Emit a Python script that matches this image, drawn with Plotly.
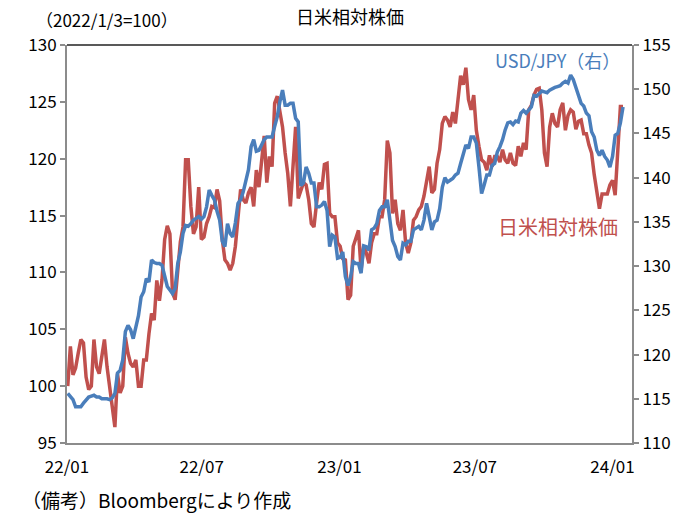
import pandas as pd
import plotly.graph_objects as go

# half-weekly observations starting 2022-01-03
dates = pd.date_range("2022-01-03", periods=213, freq="84h")

rel_stock = [
    100.0, 103.5, 101.0, 101.6, 102.9, 104.1, 103.8, 100.8, 99.7, 100.0,
    104.1, 101.7, 101.1, 102.5, 104.1, 101.7, 100.0, 98.5, 96.4, 101.1,
    99.4, 100.0, 104.3, 102.9, 102.0, 101.7, 102.3, 100.0, 100.0, 102.3,
    102.3, 104.6, 106.4, 105.8, 109.3, 107.5, 109.4, 112.9, 114.1, 113.4,
    108.2, 107.6, 110.5, 112.7, 114.0, 119.9, 119.9, 115.8, 113.4, 114.0,
    117.5, 112.9, 113.1, 114.3, 114.9, 115.8, 115.7, 117.3, 116.3, 112.9,
    111.1, 110.8, 110.2, 110.8, 112.3, 114.6, 117.3, 116.4, 116.1, 117.0,
    117.5, 115.8, 119.0, 117.5, 119.9, 122.0, 117.9, 120.2, 119.3, 124.9,
    125.5, 124.0, 122.8, 120.5, 118.7, 115.8, 119.9, 122.8, 116.5, 117.3,
    117.9, 117.7, 116.4, 114.3, 114.0, 116.1, 117.9, 117.3, 119.5, 119.6,
    115.2, 114.9, 114.9, 112.6, 112.3, 111.2, 111.1, 107.6, 108.0, 112.3,
    112.9, 113.7, 110.2, 112.3, 111.7, 110.8, 112.6, 113.4, 113.4, 114.9,
    114.9, 116.4, 121.6, 120.5, 115.2, 116.4, 114.3, 113.7, 115.5, 112.6,
    111.7, 112.6, 114.6, 114.9, 115.5, 115.8, 116.7, 118.1, 119.3, 117.0,
    117.3, 119.6, 120.8, 123.1, 123.7, 123.4, 122.8, 124.1, 123.1, 125.2,
    127.3, 126.5, 128.0, 125.2, 124.3, 125.6, 122.5, 121.1, 119.9, 119.7,
    119.0, 120.3, 119.3, 120.2, 120.2, 119.7, 120.8, 119.9, 119.6, 120.5,
    119.6, 119.4, 121.1, 120.2, 121.4, 120.8, 124.3, 124.7, 125.6, 126.1,
    126.2, 124.3, 120.5, 119.3, 122.8, 124.0, 123.1, 122.8, 124.3, 124.9,
    122.5, 123.8, 124.3, 124.1, 122.6, 123.3, 123.4, 122.2, 122.2, 121.2,
    120.5, 118.6, 117.2, 115.6, 116.9, 116.9, 116.9, 117.7, 118.1, 116.8,
    121.4, 124.6, 124.6,
]

usdjpy = [
    115.6, 115.2, 114.9, 114.1, 114.1, 114.1, 114.5, 114.9, 115.2, 115.3,
    115.4, 115.2, 115.2, 115.0, 115.0, 115.0, 114.9, 115.1, 115.6, 117.9,
    118.2, 119.4, 122.6, 123.3, 122.8, 121.8, 123.1, 124.4, 126.5, 127.1,
    128.6, 128.2, 130.7, 130.4, 130.3, 130.3, 130.1, 128.8, 127.7, 127.3,
    126.9, 127.5, 130.3, 131.6, 133.7, 134.6, 134.5, 134.8, 135.2, 135.4,
    135.6, 135.3, 135.6, 136.7, 138.6, 138.0, 137.5, 136.2, 135.2, 132.8,
    132.2, 134.8, 133.7, 133.3, 134.9, 137.1, 137.5, 138.4, 139.7, 140.9,
    143.5, 144.3, 143.0, 143.1, 143.7, 144.3, 144.6, 144.6, 144.6, 145.8,
    146.9, 148.6, 149.9, 148.2, 148.2, 148.4, 148.4, 146.7, 146.3, 139.1,
    139.4, 141.2, 140.5, 139.4, 139.4, 136.7, 136.7, 136.9, 137.3, 136.3,
    132.2, 133.5, 133.3, 130.9, 131.0, 131.6, 128.8, 127.8, 128.8, 130.5,
    130.3, 130.3, 129.2, 132.3, 132.2, 131.8, 134.1, 134.3, 134.8, 136.3,
    136.7, 136.7, 137.5, 135.2, 132.9, 132.2, 131.1, 130.7, 132.6, 132.4,
    132.8, 132.8, 134.1, 134.3, 134.5, 134.1, 135.2, 137.1, 135.6, 134.1,
    135.0, 135.2, 136.5, 138.9, 140.0, 139.5, 139.7, 139.9, 140.3, 140.5,
    141.6, 142.8, 143.7, 143.3, 144.6, 144.6, 143.9, 141.2, 138.2, 139.2,
    140.3, 140.3, 141.4, 141.6, 142.9, 143.5, 144.3, 145.4, 146.2, 146.3,
    146.0, 146.4, 146.3, 147.3, 147.6, 147.3, 147.6, 148.0, 149.3, 149.2,
    149.5, 149.8, 149.7, 149.6, 149.9, 150.1, 150.2, 150.3, 150.4, 150.7,
    150.9, 150.7, 151.6, 151.1, 150.1, 149.2, 148.4, 148.1, 147.3, 147.0,
    145.2, 144.6, 143.1, 142.5, 143.1, 142.4, 142.0, 141.2, 142.4, 144.8,
    145.0, 146.2, 148.0,
]

tick_dates = ["2022-01-02", "2022-07-01", "2023-01-01", "2023-07-01", "2024-01-01"]
tick_text = ["22/01", "22/07", "23/01", "23/07", "24/01"]

RED = "#C0504D"
BLUE = "#4A7EBB"
FONT = "Noto Sans CJK JP"
AXIS = "#8C8C8C"

fig = go.Figure()
fig.add_trace(go.Scatter(x=dates, y=rel_stock, mode="lines",
                         line=dict(color=RED, width=3.5), yaxis="y", name="日米相対株価"))
fig.add_trace(go.Scatter(x=dates, y=usdjpy, mode="lines",
                         line=dict(color=BLUE, width=3.5), yaxis="y2", name="USD/JPY(右)"))

fig.update_layout(
    width=700, height=524,
    margin=dict(l=67, r=68, t=45, b=81),
    paper_bgcolor="white", plot_bgcolor="white",
    showlegend=False,
    font=dict(family=FONT, size=16, color="#000"),
    xaxis=dict(type="date", range=["2022-01-02", "2024-01-27"],
               tickvals=tick_dates, ticktext=tick_text,
               showgrid=False, zeroline=False, showline=True,
               linecolor=AXIS, linewidth=2, ticks="",
               ticklabelstandoff=8,
               tickfont=dict(size=17)),
    yaxis=dict(range=[95, 130], dtick=5, showgrid=False, zeroline=False,
               showline=True, linecolor=AXIS, linewidth=2,
               ticks="outside", ticklen=5, tickcolor=AXIS, tickwidth=2,
               tickfont=dict(size=17)),
    yaxis2=dict(range=[110, 155], dtick=5, overlaying="y", side="right",
                showgrid=False, zeroline=False, showline=True,
                linecolor=AXIS, linewidth=2,
                ticks="outside", ticklen=5, tickcolor=AXIS, tickwidth=2,
                tickfont=dict(size=17)),
)

fig.add_shape(type="line", xref="paper", yref="paper", x0=0, x1=1, y0=1, y1=1,
              line=dict(color="#222", width=1.5))

fig.add_annotation(text="日米相対株価", xref="paper", yref="paper",
                   x=0.501, y=1.072, xanchor="center", yanchor="middle",
                   showarrow=False, font=dict(size=18))
fig.add_annotation(text="（2022/1/3=100）", xref="paper", yref="paper",
                   x=-0.058, y=1.063, xanchor="left", yanchor="middle",
                   showarrow=False, font=dict(size=17))
fig.add_annotation(text="USD/JPY（右）", xref="paper", yref="paper",
                   x=0.982, y=0.962, xanchor="right", yanchor="middle",
                   showarrow=False, font=dict(size=18, color=BLUE))
fig.add_annotation(text="日米相対株価", xref="paper", yref="paper",
                   x=0.979, y=0.545, xanchor="right", yanchor="middle",
                   showarrow=False, font=dict(size=20, color=RED))
fig.add_annotation(text="（備考）Bloombergにより作成", xref="paper", yref="paper",
                   x=-0.083, y=-0.143, xanchor="left", yanchor="middle",
                   showarrow=False, font=dict(size=19))

fig.write_html("out.html")
